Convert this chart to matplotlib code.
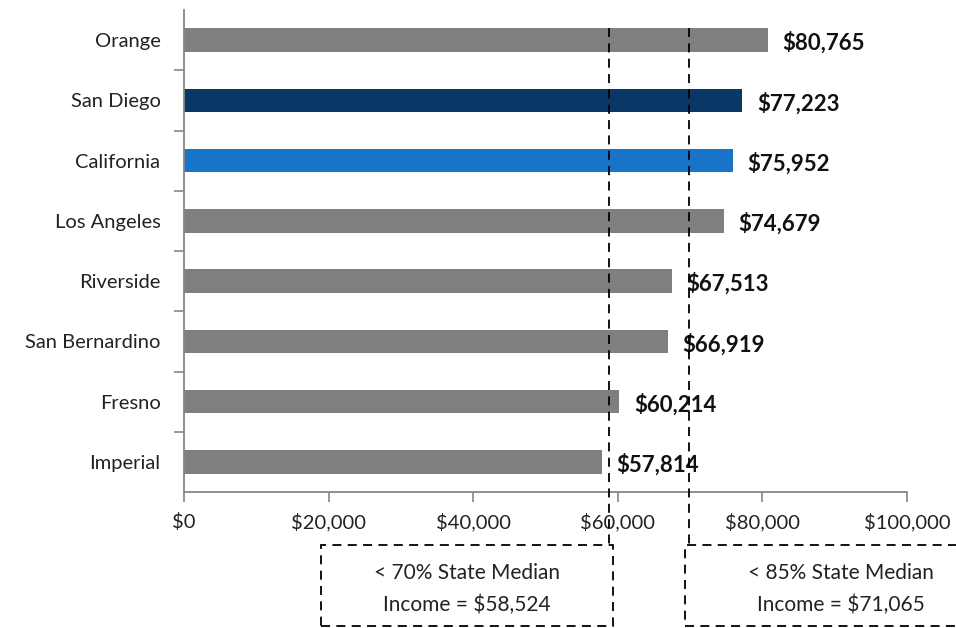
import matplotlib
matplotlib.use("Agg")
import matplotlib.pyplot as plt
from matplotlib.patches import Rectangle
from matplotlib.ticker import FuncFormatter, FixedLocator

categories = ["Orange", "San Diego", "California", "Los Angeles", "Riverside",
              "San Bernardino", "Fresno", "Imperial"]
values = [80765, 77223, 75952, 74679, 67513, 66919, 60214, 57814]
colors = ["#7f7f7f", "#0a3765", "#1874c8", "#7f7f7f", "#7f7f7f", "#7f7f7f", "#7f7f7f", "#7f7f7f"]
x_ticks = [0, 20000, 40000, 60000, 80000, 100000]
marker_lines = [58800, 69800]
box_texts = ["< 70% State Median\nIncome = $58,524", "< 85% State Median\nIncome = $71,065"]

plt.rcParams['font.family'] = ['Lato', 'DejaVu Sans']
W, H = 956, 628
fig = plt.figure(figsize=(W / 100, H / 100), dpi=100)
ax = fig.add_axes([184 / W, 1 - 492 / H, (907 - 184) / W, (492 - 10) / H])

y = list(range(len(categories)))
ax.barh(y, values, height=0.39, color=colors)
ax.set_ylim(len(categories) - 0.5, -0.5)
ax.set_xlim(0, 100000)

ax.set_yticks(y)
ax.set_yticklabels(categories, fontsize=14.5, color="#222222")
ax.tick_params(axis="y", which="major", length=0, pad=17)
ax.yaxis.set_minor_locator(FixedLocator([i + 0.5 for i in range(len(categories) - 1)]))
ax.tick_params(axis="y", which="minor", length=7, width=1.2, color="#868686")

ax.set_xticks(x_ticks)
ax.xaxis.set_major_formatter(FuncFormatter(lambda v, p: f"${v:,.0f}"))
ax.tick_params(axis="x", length=7, width=1.2, color="#868686", pad=8, labelsize=14.5, labelcolor="#222222")

for s in ["top", "right"]:
    ax.spines[s].set_visible(False)
for s in ["left", "bottom"]:
    ax.spines[s].set_color("#868686")
    ax.spines[s].set_linewidth(1.3)

for yi, v in zip(y, values):
    ax.annotate(f"${v:,}", xy=(v, yi), xytext=(10.5, -2), textcoords="offset points",
                ha="left", va="center", fontsize=16, fontweight="bold", color="#111111")

trans = ax.get_xaxis_transform()
for xv in marker_lines:
    ax.plot([xv, xv], [(492 - 28) / 482, (492 - 545) / 482], transform=trans,
            color="black", lw=1.3, ls=(0, (5, 3.5)), clip_on=False, zorder=5)

boxes = [(321, 545, 613, 626), (685, 545, 1000, 626)]
for (x0, y0, x1, y1), txt in zip(boxes, box_texts):
    fig.add_artist(Rectangle((x0 / W, 1 - y1 / H), (x1 - x0) / W, (y1 - y0) / H,
                             transform=fig.transFigure, fill=False, ec="black",
                             lw=1.3, ls=(0, (5, 3.5)), clip_on=False))
cx = [467, 841]
for c, txt in zip(cx, box_texts):
    fig.text(c / W, 1 - 589 / H, txt, ha="center", va="center", fontsize=15,
             color="#222222", linespacing=1.7)

fig.savefig("out.png", dpi=100)
